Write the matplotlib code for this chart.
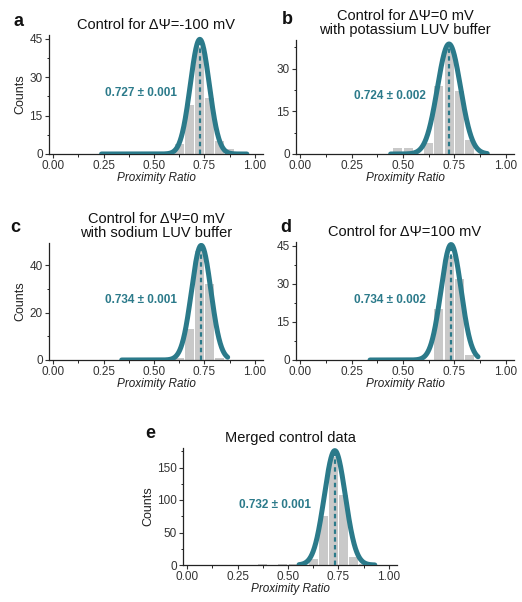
import numpy as np
import matplotlib
matplotlib.use("Agg")
import matplotlib.pyplot as plt
from matplotlib.ticker import MultipleLocator

plt.rcParams['font.family'] = ['Liberation Sans', 'DejaVu Sans']

# ---- data ----
bin_centers = [0.375, 0.425, 0.475, 0.525, 0.575, 0.625, 0.675, 0.725, 0.775, 0.825, 0.875]
counts_a = [0, 0, 0, 0, 0, 4, 19, 42, 22, 5, 2]
counts_b = [0, 0, 2, 2, 0, 4, 24, 37, 22, 5, 0]
counts_c = [1, 0, 0, 0, 0, 1, 13, 46, 32, 1, 0]
counts_d = [0, 0, 0, 0, 0, 0, 20, 41, 32, 2, 0]
counts_e = [1, 0, 2, 2, 0, 9, 76, 166, 108, 13, 2]

# Gaussian fit parameters: amplitude, mean, sigma, curve x-range
fit_a = (44.8, 0.727, 0.047, 0.24, 0.96)
fit_b = (38.6, 0.724, 0.056, 0.44, 0.91)
fit_c = (48.5, 0.734, 0.048, 0.34, 0.865)
fit_d = (45.5, 0.734, 0.049, 0.34, 0.865)
fit_e = (176.0, 0.732, 0.052, 0.555, 0.93)

labels_fit = ["0.727 \u00b1 0.001", "0.724 \u00b1 0.002", "0.734 \u00b1 0.001",
              "0.734 \u00b1 0.002", "0.732 \u00b1 0.001"]
titles = ["Control for \u0394\u03a8=-100 mV",
          "Control for \u0394\u03a8=0 mV\nwith potassium LUV buffer",
          "Control for \u0394\u03a8=0 mV\nwith sodium LUV buffer",
          "Control for \u0394\u03a8=100 mV",
          "Merged control data"]
letters = ["a", "b", "c", "d", "e"]
yticks_list = [[0, 15, 30, 45], [0, 15, 30], [0, 20, 40], [0, 15, 30, 45], [0, 50, 100, 150]]
ytop = [46.5, 40, 49.5, 46.5, 180]
show_ylabel = [True, False, True, False, True]
xticks = [0.0, 0.25, 0.5, 0.75, 1.0]
xticklabels = ["0.00", "0.25", "0.50", "0.75", "1.00"]

TEAL = "#2b7a8a"
GREY = "#c9c9c9"

W, H = 522, 602
fig = plt.figure(figsize=(W / 100, H / 100), dpi=100)

def rect(l, r, t, b):
    return [l / W, 1 - b / H, (r - l) / W, (b - t) / H]

rects = [rect(49, 263, 35, 154), rect(296, 514, 40, 154),
         rect(49, 263, 243, 360), rect(296, 514, 242, 360),
         rect(183, 397, 448, 565)]

all_counts = [counts_a, counts_b, counts_c, counts_d, counts_e]
all_fits = [fit_a, fit_b, fit_c, fit_d, fit_e]

for i in range(5):
    ax = fig.add_axes(rects[i])
    ax.bar(bin_centers, all_counts[i], width=0.044, color=GREY, edgecolor='none', zorder=1)
    A, mu, sg, x0, x1 = all_fits[i]
    xs = np.linspace(x0, x1, 400)
    ax.plot(xs, A * np.exp(-(xs - mu) ** 2 / (2 * sg ** 2)), color=TEAL, lw=3.6,
            solid_capstyle='round', zorder=3)
    ax.plot([mu, mu], [0, A * 0.97], color=TEAL, lw=1.6, ls=(0, (2, 1.5)), zorder=4)
    ax.text(0.43, 0.51, labels_fit[i], transform=ax.transAxes, color=TEAL,
            fontsize=8.5, fontweight='bold', ha='center', va='center')
    ax.set_xlim(-0.02, 1.04)
    ax.set_ylim(0, ytop[i])
    ax.set_xticks(xticks)
    ax.set_xticklabels(xticklabels)
    ax.set_yticks(yticks_list[i])
    ax.xaxis.set_minor_locator(MultipleLocator(0.125))
    ax.yaxis.set_minor_locator(MultipleLocator(yticks_list[i][1] / 2))
    ax.tick_params(axis='both', which='major', labelsize=8.5, length=3, width=0.8,
                   direction='out', pad=1.5, colors='#333333')
    ax.tick_params(axis='both', which='minor', length=1.8, width=0.6, direction='out')
    for s in ['top', 'right']:
        ax.spines[s].set_visible(False)
    for s in ['left', 'bottom']:
        ax.spines[s].set_linewidth(0.9)
        ax.spines[s].set_color('#222222')
    ax.set_xlabel("Proximity Ratio", fontsize=8.5, fontstyle='italic', labelpad=0,
                  color='#222222')
    if show_ylabel[i]:
        ax.set_ylabel("Counts", fontsize=9, labelpad=2, color='#222222')
    ax.set_title(titles[i], fontsize=10.5, pad=4, linespacing=1.05, color='#111111')

# panel letters
for (lx, ly), letter in zip([(13, 22), (282, 20), (10, 228), (280, 228), (145, 433)], letters):
    fig.text(lx / W, 1 - ly / H, letter, fontsize=13, fontweight='bold', va='center',
             ha='left', color='#111111')

fig.savefig("out.png", dpi=100)
